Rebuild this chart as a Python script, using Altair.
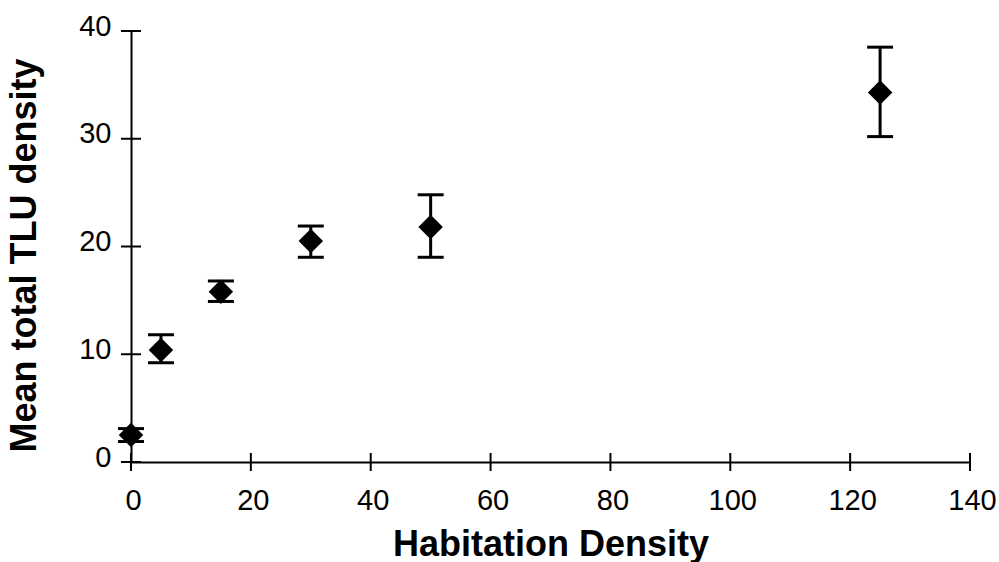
import altair as alt
import pandas as pd

habitation = [0, 5, 15, 30, 50, 125]
mean_tlu = [2.5, 10.4, 15.8, 20.5, 21.8, 34.3]
err_low = [1.9, 9.2, 14.9, 19.0, 19.0, 30.2]
err_high = [3.1, 11.8, 16.8, 21.9, 24.8, 38.5]

x_ticks = [0, 20, 40, 60, 80, 100, 120, 140]
y_ticks = [0, 10, 20, 30, 40]

df = pd.DataFrame({"x": habitation, "y": mean_tlu, "lo": err_low, "hi": err_high})
xt = pd.DataFrame({"x": x_ticks})
yt = pd.DataFrame({"y": y_ticks})

W, H = 839, 431
FONT = "Liberation Sans"

xs = alt.Scale(domain=[0, 140], nice=False, zero=False)
ys = alt.Scale(domain=[0, 40], nice=False, zero=False)

xaxis = alt.Axis(values=x_ticks, ticks=False, tickSize=0, labelPadding=24, labelFontSize=29,
                 labelFont=FONT, labelColor="black", domainColor="black", domainWidth=2,
                 labelOffset=2, labelFlush=False,
                 grid=False, title="Habitation Density", titleFont=FONT, titleFontSize=36,
                 titleFontWeight="bold", titleColor="black",
                 titleBaseline="alphabetic", titleY=93, titleX=W / 2)
yaxis = alt.Axis(values=y_ticks, ticks=False, tickSize=0, labelPadding=20, labelFontSize=29,
                 labelFont=FONT, labelColor="black", domainColor="black", domainWidth=2,
                 labelOffset=-5, labelFlush=False,
                 grid=False, title="Mean total TLU density", titleFont=FONT, titleFontSize=36,
                 titleFontWeight="bold", titleColor="black",
                 titleBaseline="alphabetic", titleX=-96, titleY=224, titleAngle=-90)

base = alt.Chart(df)

rules = base.mark_rule(color="black", strokeWidth=3, opacity=1).encode(
    x=alt.X("x:Q", scale=xs, axis=xaxis),
    y=alt.Y("lo:Q", scale=ys, axis=yaxis),
    y2="hi:Q",
)
cap_lo = base.mark_tick(color="black", thickness=3, size=26, orient="horizontal", opacity=1).encode(
    x=alt.X("x:Q", scale=xs), y=alt.Y("lo:Q", scale=ys))
cap_hi = base.mark_tick(color="black", thickness=3, size=26, orient="horizontal", opacity=1).encode(
    x=alt.X("x:Q", scale=xs), y=alt.Y("hi:Q", scale=ys))
points = base.mark_point(shape="diamond", filled=True, color="black", opacity=1, size=600).encode(
    x=alt.X("x:Q", scale=xs), y=alt.Y("y:Q", scale=ys))

ytick_marks = alt.Chart(yt).mark_tick(color="black", thickness=2, size=20, orient="horizontal", opacity=1).encode(
    y=alt.Y("y:Q", scale=ys), x=alt.value(0))
xtick_marks = alt.Chart(xt).mark_tick(color="black", thickness=2, size=18, orient="vertical", opacity=1).encode(
    x=alt.X("x:Q", scale=xs), y=alt.value(H))

chart = alt.layer(rules, cap_lo, cap_hi, ytick_marks, xtick_marks, points).properties(
    width=W, height=H,
    background="white",
    autosize=alt.AutoSizeParams(type="none"),
    padding={"left": 131, "top": 31, "right": 29, "bottom": 100},
).configure_view(strokeWidth=0, stroke="transparent")

chart.save("out.html", embed_options={"renderer": "svg", "actions": False})
